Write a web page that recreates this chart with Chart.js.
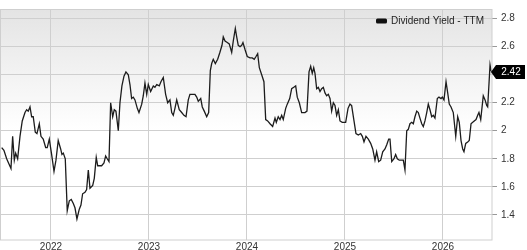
<!DOCTYPE html>
<html lang="en">
<head>
    <meta charset="UTF-8">
    <title>Dividend Yield - TTM</title>
    <script src="https://cdn.jsdelivr.net/npm/chart.js@4"></script>
    <style>
        html, body { margin: 0; padding: 0; background: #fff; }
        .grafico { width: 527px; height: 250px; }
    </style>
</head>
<body>
    <div class="grafico">
        <canvas id="myChart"></canvas>
    </div>

<script>
    // dates as decimal years, one per reading
    const dates = [
        2021.497, 2021.520, 2021.548, 2021.592, 2021.609, 2021.626, 2021.640, 2021.660, 2021.684, 2021.707,
        2021.735, 2021.752, 2021.768, 2021.786, 2021.803, 2021.819, 2021.840, 2021.857, 2021.881, 2021.898,
        2021.921, 2021.946, 2021.962, 2021.983, 2022.007, 2022.031, 2022.051, 2022.074, 2022.099, 2022.112,
        2022.126, 2022.146, 2022.166, 2022.187, 2022.207, 2022.228, 2022.245, 2022.265, 2022.289, 2022.306,
        2022.323, 2022.347, 2022.364, 2022.381, 2022.398, 2022.426, 2022.442, 2022.462, 2022.477, 2022.517,
        2022.541, 2022.558, 2022.574, 2022.592, 2022.609, 2022.630, 2022.646, 2022.663, 2022.687, 2022.704,
        2022.724, 2022.745, 2022.765, 2022.789, 2022.806, 2022.823, 2022.840, 2022.857, 2022.881, 2022.898,
        2022.926, 2022.942, 2022.959, 2022.977, 2022.993, 2023.017, 2023.044, 2023.061, 2023.079, 2023.105,
        2023.122, 2023.146, 2023.170, 2023.191, 2023.214, 2023.232, 2023.248, 2023.265, 2023.283, 2023.309,
        2023.334, 2023.357, 2023.378, 2023.401, 2023.418, 2023.442, 2023.469, 2023.487, 2023.503, 2023.528,
        2023.544, 2023.564, 2023.589, 2023.609, 2023.626, 2023.640, 2023.656, 2023.677, 2023.701, 2023.724,
        2023.745, 2023.758, 2023.776, 2023.799, 2023.819, 2023.844, 2023.860, 2023.881, 2023.895, 2023.911,
        2023.929, 2023.946, 2023.959, 2023.980, 2024.003, 2024.031, 2024.054, 2024.074, 2024.092, 2024.109,
        2024.126, 2024.150, 2024.173, 2024.191, 2024.211, 2024.235, 2024.262, 2024.286, 2024.299, 2024.319,
        2024.337, 2024.354, 2024.370, 2024.395, 2024.411, 2024.436, 2024.456, 2024.477, 2024.497, 2024.513,
        2024.534, 2024.558, 2024.574, 2024.592, 2024.612, 2024.633, 2024.650, 2024.666, 2024.681, 2024.694,
        2024.711, 2024.728, 2024.745, 2024.762, 2024.779, 2024.796, 2024.813, 2024.830, 2024.847, 2024.864,
        2024.881, 2024.898, 2024.915, 2024.932, 2024.949, 2024.972, 2024.993, 2025.007, 2025.031, 2025.051,
        2025.068, 2025.092, 2025.112, 2025.136, 2025.160, 2025.177, 2025.194, 2025.214, 2025.238, 2025.262,
        2025.283, 2025.306, 2025.323, 2025.344, 2025.364, 2025.385, 2025.408, 2025.426, 2025.446, 2025.459,
        2025.477, 2025.500, 2025.517, 2025.534, 2025.554, 2025.579, 2025.595, 2025.612, 2025.630, 2025.646,
        2025.663, 2025.681, 2025.697, 2025.714, 2025.732, 2025.748, 2025.765, 2025.783, 2025.799, 2025.816,
        2025.834, 2025.850, 2025.867, 2025.885, 2025.901, 2025.918, 2025.942, 2025.959, 2025.980, 2025.993,
        2026.010, 2026.031, 2026.048, 2026.064, 2026.082, 2026.105, 2026.130, 2026.150, 2026.166, 2026.184,
        2026.201, 2026.214, 2026.232, 2026.252, 2026.268, 2026.286, 2026.303, 2026.319, 2026.337, 2026.354,
        2026.367, 2026.385, 2026.411, 2026.429, 2026.446, 2026.456, 2026.480, 2026.490, 2026.500
    ];

    const yieldValues = [
        1.88, 1.86, 1.80, 1.73, 1.96, 1.79, 1.84, 1.80, 1.96, 2.07,
        2.13, 2.15, 2.14, 2.17, 2.10, 2.10, 1.99, 1.98, 2.05, 1.96,
        1.94, 1.88, 1.88, 1.94, 1.83, 1.71, 1.79, 1.93, 1.87, 1.83,
        1.84, 1.80, 1.43, 1.50, 1.51, 1.48, 1.45, 1.37, 1.44, 1.47,
        1.55, 1.56, 1.58, 1.72, 1.59, 1.61, 1.66, 1.81, 1.75, 1.75,
        1.77, 1.82, 1.80, 1.78, 2.20, 2.10, 2.15, 2.14, 2.00, 2.20,
        2.32, 2.39, 2.42, 2.40, 2.33, 2.23, 2.24, 2.22, 2.16, 2.13,
        2.19, 2.25, 2.34, 2.26, 2.33, 2.28, 2.32, 2.31, 2.33, 2.32,
        2.35, 2.38, 2.26, 2.20, 2.22, 2.13, 2.11, 2.16, 2.22, 2.15,
        2.13, 2.11, 2.10, 2.22, 2.26, 2.26, 2.26, 2.24, 2.21, 2.23,
        2.17, 2.14, 2.10, 2.13, 2.43, 2.48, 2.51, 2.48, 2.51, 2.56,
        2.61, 2.67, 2.64, 2.63, 2.62, 2.56, 2.64, 2.73, 2.67, 2.61,
        2.60, 2.61, 2.63, 2.58, 2.53, 2.52, 2.52, 2.51, 2.53, 2.55,
        2.45, 2.40, 2.35, 2.08, 2.07, 2.05, 2.03, 2.09, 2.06, 2.10,
        2.08, 2.11, 2.08, 2.16, 2.19, 2.23, 2.30, 2.31, 2.32, 2.24,
        2.20, 2.13, 2.13, 2.13, 2.14, 2.42, 2.46, 2.41, 2.45, 2.41,
        2.30, 2.31, 2.28, 2.30, 2.31, 2.27, 2.25, 2.26, 2.23, 2.14,
        2.20, 2.18, 2.11, 2.15, 2.07, 2.06, 2.06, 2.06, 2.16, 2.19,
        2.18, 2.07, 1.98, 1.97, 1.98, 1.96, 1.92, 1.96, 1.94, 1.91,
        1.87, 1.79, 1.85, 1.78, 1.79, 1.85, 1.87, 1.90, 1.94, 1.94,
        1.78, 1.80, 1.83, 1.80, 1.79, 1.79, 1.79, 1.72, 2.00, 2.01,
        2.05, 2.06, 2.05, 2.10, 2.14, 2.13, 2.09, 2.05, 2.03, 2.07,
        2.13, 2.19, 2.15, 2.10, 2.11, 2.09, 2.23, 2.24, 2.23, 2.24,
        2.22, 2.35, 2.27, 2.19, 2.17, 2.13, 1.96, 2.10, 2.06, 1.93,
        1.87, 1.85, 1.91, 1.92, 1.93, 2.05, 2.06, 2.07, 2.08, 2.11,
        2.13, 2.08, 2.25, 2.22, 2.18, 2.17, 2.47, 2.43, 2.42
    ];

    const yearTicks = [2022, 2023, 2024, 2025, 2026];
    const yieldTicks = [1.4, 1.6, 1.8, 2, 2.2, 2.4, 2.6, 2.8];
    const seriesName = 'Dividend Yield - TTM';

    const fonte = { family: '"Liberation Sans", Arial, sans-serif', size: 10 };
    const gridColor = '#cfcfcf';

    // gray fade behind the plot + frame
    const fundo = {
        id: 'fundo',
        beforeDraw(chart) {
            const { ctx, chartArea: a } = chart;
            const grad = ctx.createLinearGradient(0, a.top, 0, a.bottom);
            grad.addColorStop(0, '#e4e4e4');
            grad.addColorStop(0.52, '#ffffff');
            grad.addColorStop(1, '#ffffff');
            ctx.save();
            ctx.fillStyle = grad;
            ctx.fillRect(a.left, a.top, a.right - a.left, a.bottom - a.top);
            ctx.restore();
        },
        afterDraw(chart) {
            const { ctx, chartArea: a } = chart;
            ctx.save();
            ctx.strokeStyle = gridColor;
            ctx.lineWidth = 1;
            ctx.strokeRect(a.left + 0.5, a.top - 0.5, a.right - a.left - 0.5, a.bottom - a.top + 0.5);
            ctx.restore();
        }
    };

    // legend in the top right corner of the plot
    const legenda = {
        id: 'legenda',
        afterDraw(chart) {
            const { ctx, chartArea: a } = chart;
            ctx.save();
            ctx.font = '10px ' + fonte.family;
            ctx.textBaseline = 'middle';
            ctx.textAlign = 'left';
            const w = ctx.measureText(seriesName).width;
            const xText = a.right - 8 - w;
            const yMid = a.top + 11;
            ctx.fillStyle = '#111';
            ctx.beginPath();
            ctx.roundRect(xText - 15, yMid - 2.5, 11, 5, 1.5);
            ctx.fill();
            ctx.fillStyle = '#222';
            ctx.fillText(seriesName, xText, yMid);
            ctx.restore();
        }
    };

    // black tag with the last value on the right axis
    const ultimoValor = {
        id: 'ultimoValor',
        afterDraw(chart) {
            const { ctx, chartArea: a, scales } = chart;
            const last = yieldValues[yieldValues.length - 1];
            const y = Math.round(scales.y.getPixelForValue(last));
            const x0 = a.right - 1;
            ctx.save();
            ctx.fillStyle = '#000';
            ctx.beginPath();
            ctx.moveTo(x0, y);
            ctx.lineTo(x0 + 5, y - 7);
            ctx.lineTo(x0 + 34, y - 7);
            ctx.lineTo(x0 + 34, y + 7);
            ctx.lineTo(x0 + 5, y + 7);
            ctx.closePath();
            ctx.fill();
            ctx.fillStyle = '#fff';
            ctx.font = '10px ' + fonte.family;
            ctx.textBaseline = 'middle';
            ctx.textAlign = 'center';
            ctx.fillText(last.toFixed(2), x0 + 20, y + 0.5);
            ctx.restore();
        }
    };

    function criarGrafico() {
        const ctx = document.getElementById('myChart');
        const pontos = dates.map((d, i) => ({ x: d, y: yieldValues[i] }));

        new Chart(ctx, {
            type: 'line',
            data: {
                datasets: [{
                    label: seriesName,
                    data: pontos,
                    borderColor: '#1c1c1c',
                    borderWidth: 1.3,
                    pointRadius: 0,
                    tension: 0
                }]
            },
            options: {
                responsive: true,
                maintainAspectRatio: false,
                animation: false,
                layout: { padding: { top: 1, left: 0, right: 0, bottom: 0 } },
                plugins: {
                    legend: { display: false },
                    tooltip: { enabled: false }
                },
                scales: {
                    x: {
                        type: 'linear',
                        min: 2021.48,
                        max: 2026.5,
                        grid: { color: gridColor, drawTicks: false },
                        border: { display: false },
                        ticks: {
                            padding: 1,
                            color: '#333',
                            font: fonte,
                            maxRotation: 0,
                            callback: v => String(v)
                        },
                        afterBuildTicks: s => { s.ticks = yearTicks.map(v => ({ value: v })); },
                        afterFit: s => { s.height = 10; }
                    },
                    y: {
                        position: 'right',
                        min: 1.22,
                        max: 2.862,
                        grid: { color: gridColor, tickLength: 5, tickColor: '#999' },
                        border: { display: false },
                        ticks: {
                            padding: 4,
                            color: '#333',
                            font: fonte,
                            callback: v => String(v)
                        },
                        afterBuildTicks: s => { s.ticks = yieldTicks.map(v => ({ value: v })); },
                        afterFit: s => { s.width = 35; }
                    }
                }
            },
            plugins: [fundo, legenda, ultimoValor]
        });
    }

    criarGrafico();
</script>
</body>
</html>
